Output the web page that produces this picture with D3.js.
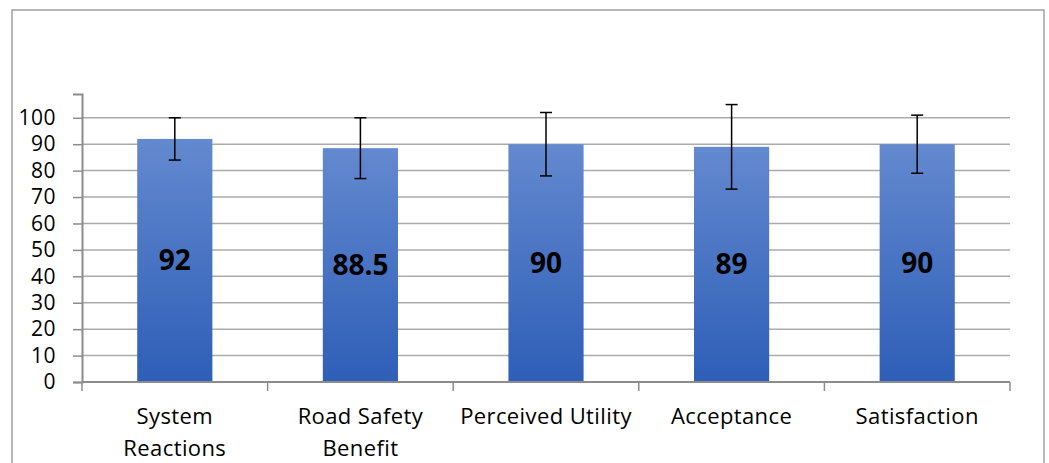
<!DOCTYPE html>
<html>
<head>
<meta charset="utf-8">
<script src="https://cdn.jsdelivr.net/npm/d3@7"></script>
<style>
  body { margin: 0; background: #fff; }
  text { font-family: "Open Sans", Lato, sans-serif; }
</style>
</head>
<body>
<svg></svg>
<script>
// Bar chart with error bars

var categories = [["System", "Reactions"], ["Road Safety", "Benefit"], ["Perceived Utility"], ["Acceptance"], ["Satisfaction"]];
var values = [92, 88.5, 90, 89, 90];
var errLow = [84, 77, 78, 73, 79];
var errHigh = [100, 100, 102, 105, 101];
var yTicks = [0, 10, 20, 30, 40, 50, 60, 70, 80, 90, 100];

var svgWidth = 1049, svgHeight = 463;
var margin = {top: 94, right: 39, bottom: 81, left: 82};
var width = svgWidth - margin.left - margin.right;
var height = svgHeight - margin.top - margin.bottom;

var svg = d3.select("svg")
  .attr("width", svgWidth)
  .attr("height", svgHeight);

// outer frame
svg.append("rect")
  .attr("x", 12).attr("y", 10)
  .attr("width", 1032).attr("height", 470)
  .attr("fill", "none")
  .attr("stroke", "#a0a0a0")
  .attr("stroke-width", 1.5);

var defs = svg.append("defs");
var grad = defs.append("linearGradient")
  .attr("id", "barGrad")
  .attr("x1", 0).attr("y1", 0).attr("x2", 0).attr("y2", 1);
grad.append("stop").attr("offset", "0%").attr("stop-color", "#6389cf");
grad.append("stop").attr("offset", "100%").attr("stop-color", "#2e5eb7");

var g = svg.append("g")
  .attr("transform", "translate(" + margin.left + "," + margin.top + ")");

var xScale = d3.scaleBand()
  .domain(d3.range(values.length))
  .range([0, width])
  .paddingInner(0.595)
  .paddingOuter(0.2975);

var yScale = d3.scaleLinear()
  .domain([0, 109])
  .range([height, 0]);

// gridlines
g.selectAll(".grid")
  .data(yTicks.slice(1))
  .enter()
  .append("line")
  .attr("x1", 0).attr("x2", width)
  .attr("y1", function(d) { return yScale(d); })
  .attr("y2", function(d) { return yScale(d); })
  .attr("stroke", "#ababab")
  .attr("stroke-width", 1.5);

// y axis
var y_axis = d3.axisLeft(yScale).tickValues(yTicks).tickSize(9).tickPadding(17);
var yAxisG = g.append("g").call(y_axis);
yAxisG.select(".domain").attr("stroke", "#8c8c8c").attr("stroke-width", 2);
yAxisG.selectAll(".tick line").attr("stroke", "#8c8c8c").attr("stroke-width", 1.5);
yAxisG.selectAll(".tick text")
  .attr("font-size", 21)
  .attr("fill", "#000")
  .style("font-family", "'Open Sans', Lato, sans-serif")
  .style("letter-spacing", "0.5px");

// bars
g.selectAll(".bar")
  .data(values)
  .enter()
  .append("rect")
  .attr("class", "bar")
  .attr("x", function(d, i) { return xScale(i); })
  .attr("y", function(d) { return yScale(d); })
  .attr("width", xScale.bandwidth())
  .attr("height", function(d) { return height - yScale(d); })
  .attr("fill", "url(#barGrad)");

// x axis
var band = width / values.length;
var xAxisG = g.append("g").attr("transform", "translate(0," + height + ")");
xAxisG.append("line")
  .attr("x1", 0).attr("x2", width)
  .attr("stroke", "#8c8c8c").attr("stroke-width", 2);
xAxisG.selectAll(".xtick")
  .data(d3.range(values.length + 1))
  .enter()
  .append("line")
  .attr("x1", function(d) { return d * band; })
  .attr("x2", function(d) { return d * band; })
  .attr("y1", 0).attr("y2", 9)
  .attr("stroke", "#8c8c8c").attr("stroke-width", 1.5);

// category labels
var catLabels = xAxisG.selectAll(".cat")
  .data(categories)
  .enter()
  .append("text")
  .attr("text-anchor", "middle")
  .attr("font-size", 22)
  .style("letter-spacing", "0.4px")
  .attr("fill", "#000")
  .attr("x", function(d, i) { return xScale(i) + xScale.bandwidth() / 2; })
  .attr("y", 42);
catLabels.selectAll("tspan")
  .data(function(d) { return d; })
  .enter()
  .append("tspan")
  .attr("x", function() { return d3.select(this.parentNode).attr("x"); })
  .attr("dy", function(d, i) { return i === 0 ? 0 : 32; })
  .text(function(d) { return d; });

// error bars
var errG = g.selectAll(".err")
  .data(values)
  .enter()
  .append("g")
  .attr("stroke", "#000")
  .attr("stroke-width", 1.5);
errG.append("line")
  .attr("x1", function(d, i) { return xScale(i) + xScale.bandwidth() / 2; })
  .attr("x2", function(d, i) { return xScale(i) + xScale.bandwidth() / 2; })
  .attr("y1", function(d, i) { return yScale(errLow[i]); })
  .attr("y2", function(d, i) { return yScale(errHigh[i]); });
errG.append("line")
  .attr("x1", function(d, i) { return xScale(i) + xScale.bandwidth() / 2 - 6; })
  .attr("x2", function(d, i) { return xScale(i) + xScale.bandwidth() / 2 + 6; })
  .attr("y1", function(d, i) { return yScale(errHigh[i]); })
  .attr("y2", function(d, i) { return yScale(errHigh[i]); });
errG.append("line")
  .attr("x1", function(d, i) { return xScale(i) + xScale.bandwidth() / 2 - 6; })
  .attr("x2", function(d, i) { return xScale(i) + xScale.bandwidth() / 2 + 6; })
  .attr("y1", function(d, i) { return yScale(errLow[i]); })
  .attr("y2", function(d, i) { return yScale(errLow[i]); });

// value labels centred in bars
g.selectAll(".label")
  .data(values)
  .enter()
  .append("text")
  .text(function(d) { return d; })
  .attr("x", function(d, i) { return xScale(i) + xScale.bandwidth() / 2; })
  .attr("y", function(d) { return (yScale(d) + height) / 2; })
  .attr("dy", "0.35em")
  .attr("text-anchor", "middle")
  .attr("font-size", 28)
  .attr("font-weight", "bold")
  .attr("fill", "#000");
</script>
</body>
</html>
